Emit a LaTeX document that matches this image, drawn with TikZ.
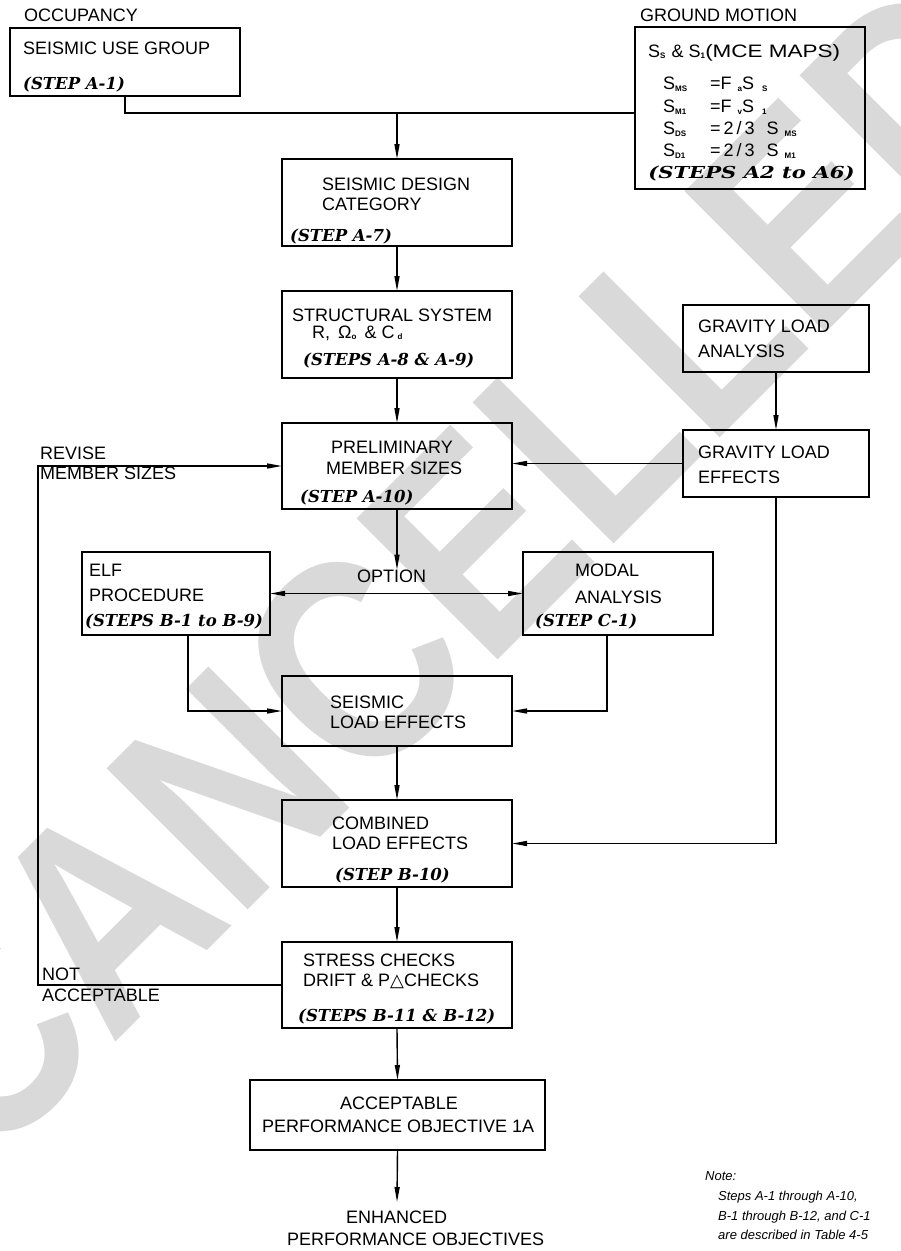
\documentclass[tikz,border=0pt]{standalone}
\usepackage{fontspec}
\setmainfont{Liberation Sans}
\newfontfamily\stepfont{DejaVu Serif}
\newfontfamily\dvs{DejaVu Sans}
\usetikzlibrary{arrows.meta}
\newcommand\sbx[1]{\raisebox{-1.5pt}{\fontsize{8}{8}\selectfont\bfseries #1}}
\begin{document}
\begin{tikzpicture}[x=1pt,y=-1pt,
  bx/.style={draw, line width=1.5pt, inner sep=0pt, outer sep=0pt, anchor=north west},
  tx/.style={inner sep=0pt, anchor=base west, font=\fontsize{18}{20}\selectfont},
  st/.style={inner sep=0pt, anchor=base west, font=\stepfont\bfseries\itshape\fontsize{16.5}{18}\selectfont},
  nt/.style={inner sep=0pt, anchor=base west, font=\itshape\fontsize{13}{15}\selectfont},
  ln/.style={line width=1.4pt},
  ar/.style={line width=1.4pt, -{Triangle[length=15pt,width=5pt]}},
  dar/.style={line width=1.4pt, {Triangle[length=15pt,width=5pt]}-{Triangle[length=15pt,width=5pt]}},
  wm/.style={inner sep=0pt, text=black!15, font=\bfseries\fontsize{290}{290}\selectfont}
]
\useasboundingbox (0,0) rectangle (901,1251);
\fill[white] (0,0) rectangle (901,1251);
\begin{scope}
\clip (0,0) rectangle (901,1251);
\node[wm, rotate=45, xscale=0.845] (wmk) at (450,567) {CANCELLED};
\end{scope}

% boxes
\node[bx, minimum width=230pt, minimum height=68pt] (use) at (10,28) {};
\node[bx, minimum width=230pt, minimum height=162pt] (gm) at (635,27) {};
\node[bx, minimum width=230pt, minimum height=87pt] (design) at (282,159) {};
\node[bx, minimum width=230pt, minimum height=87pt] (struct) at (282,291) {};
\node[bx, minimum width=230pt, minimum height=86pt] (prelim) at (282,423) {};
\node[bx, minimum width=186pt, minimum height=67pt] (gan) at (683,305) {};
\node[bx, minimum width=186pt, minimum height=67pt] (geff) at (683,430) {};
\node[bx, minimum width=188pt, minimum height=83pt] (elf) at (82,552) {};
\node[bx, minimum width=190pt, minimum height=83pt] (modal) at (523,552) {};
\node[bx, minimum width=230pt, minimum height=70pt] (seis) at (282,676) {};
\node[bx, minimum width=230pt, minimum height=87pt] (comb) at (282,800) {};
\node[bx, minimum width=230pt, minimum height=86pt] (stress) at (282,942) {};
\node[bx, minimum width=295pt, minimum height=70pt] (acc) at (250,1080) {};

% texts
\node[tx] (t1) at (24,21) {OCCUPANCY};
\node[tx] (t2) at (23,54.5) {SEISMIC USE GROUP};
\node[st] (t3) at (23,89) {(STEP A-1)};
\node[tx] (t4) at (640,21) {GROUND MOTION};
\node[tx] (g1a) at (648,57) {S\sbx{S}\,\,\& S\sbx{1}};
\node[tx, xscale=1.25] (g1b) at (705,57) {(MCE MAPS)};
\node[tx] (g2a) at (663,89.5) {S\sbx{MS}};
\node[tx] (g2b) at (710,89.5) {=F\hspace{6pt}\sbx{a}S\hspace{8pt}\sbx{S}};
\node[tx] (g3a) at (663,112.5) {S\sbx{M1}};
\node[tx] (g3b) at (710,112.5) {=F\hspace{6pt}\sbx{v}S\hspace{8pt}\sbx{1}};
\node[tx] (g4a) at (663,134.5) {S\sbx{DS}};
\node[tx] (g4b) at (710,134.5) {=\,2\,/\,3\hspace{12pt}S\hspace{6pt}\sbx{MS}};
\node[tx] (g5a) at (663,156.5) {S\sbx{D1}};
\node[tx] (g5b) at (710,156.5) {=\,2\,/\,3\hspace{12pt}S\hspace{6pt}\sbx{M1}};
\node[st, xscale=1.28] (g6) at (648,178) {(STEPS A2 to A6)};

\node[tx] (d1) at (322,190) {SEISMIC DESIGN};
\node[tx] (d2) at (322,210) {CATEGORY};
\node[st] (d3) at (290,241) {(STEP A-7)};

\node[tx] (s1) at (292,321.5) {STRUCTURAL SYSTEM};
\node[tx] (s2) at (312,338) {R,\, Ω\sbx{o}\, \& C\,\sbx{d}};
\node[st] (s3) at (303,365) {(STEPS A-8 \& A-9)};

\node[tx] (p1) at (331,453.5) {PRELIMINARY};
\node[tx] (p2) at (326,474) {MEMBER SIZES};
\node[st] (p3) at (300,502) {(STEP A-10)};

\node[tx] (ga1) at (698,332.5) {GRAVITY LOAD};
\node[tx] (ga2) at (698,357.5) {ANALYSIS};
\node[tx] (ge1) at (698,458.5) {GRAVITY LOAD};
\node[tx] (ge2) at (698,483) {EFFECTS};

\node[tx] (r1) at (40,459.5) {REVISE};
\node[tx] (r2) at (40,479.5) {MEMBER SIZES};

\node[tx] (e1) at (89,576.5) {ELF};
\node[tx] (e2) at (89,601) {PROCEDURE};
\node[st] (e3) at (85,626) {(STEPS B-1 to B-9)};

\node[tx] (opt) at (357,582.5) {OPTION};

\node[tx] (m1) at (575,576.5) {MODAL};
\node[tx] (m2) at (575,603.5) {ANALYSIS};
\node[st] (m3) at (535,626) {(STEP C-1)};

\node[tx] (se1) at (330,708) {SEISMIC};
\node[tx] (se2) at (330,728.5) {LOAD EFFECTS};

\node[tx] (c1) at (332,829) {COMBINED};
\node[tx] (c2) at (332,849.5) {LOAD EFFECTS};
\node[st] (c3) at (335,880.5) {(STEP B-10)};

\node[tx] (n1) at (42,980.5) {NOT};
\node[tx] (n2) at (42,1001.5) {ACCEPTABLE};

\node[tx] (sc1) at (303,966.5) {STRESS CHECKS};
\node[tx] (sc2) at (303,986.5) {DRIFT \& P{\dvs △}CHECKS};
\node[st] (sc3) at (298,1021) {(STEPS B-11 \& B-12)};

\node[tx] (a1) at (340,1109.5) {ACCEPTABLE};
\node[tx] (a2) at (262,1132.5) {PERFORMANCE OBJECTIVE 1A};

\node[tx] (en1) at (346,1223.5) {ENHANCED};
\node[tx] (en2) at (287,1245.5) {PERFORMANCE OBJECTIVES};

\node[nt] (no1) at (705,1180) {Note:};
\node[nt] (no2) at (718,1200) {Steps A-1 through A-10,};
\node[nt] (no3) at (718,1220) {B-1 through B-12, and C-1};
\node[nt] (no4) at (718,1239) {are described in Table 4-5};

% connectors
\coordinate (jg) at (635,113);
\coordinate (jd) at (397,113);
\coordinate (rv) at (38,466);
\coordinate (ae) at (397,1202);
\draw[ln] (use.south) |- (jg);
\draw[ar] (jd) -- (design.north);
\draw[ar] (design.south) -- (struct.north);
\draw[ar] (struct.south) -- (prelim.north);
\draw[ar] (gan.south) -- (geff.north);
\draw[ar] (geff.west) -- (geff.west -| prelim.east);
\draw[ar] (prelim.south) -- (prelim.south |- opt.north);
\draw[dar] (elf.east) -- (modal.west);
\draw[ar] ([xshift=106pt]elf.south west) |- (seis.west);
\draw[ar] ([xshift=84pt]modal.south west) |- (seis.east);
\draw[ar] (seis.south) -- (comb.north);
\draw[ar] (geff.south) |- (comb.east);
\draw[ar] (comb.south) -- (stress.north);
\draw[ar] (stress.west) -| (rv) -- (prelim.west);
\draw[ar] (stress.south) -- (acc.north);
\draw[ar] (acc.south) -- (ae);
\end{tikzpicture}
\end{document}
